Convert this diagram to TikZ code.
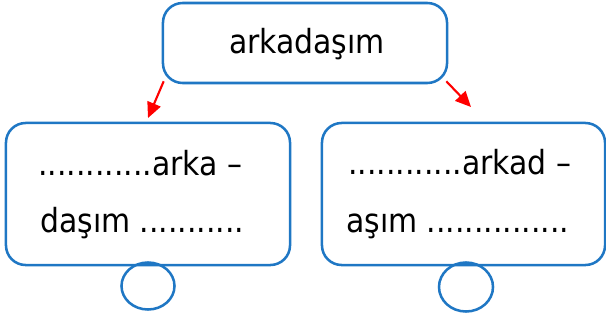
\documentclass[tikz,border=0pt]{standalone}
\usepackage{fontspec}
\setmainfont{DejaVu Sans Condensed}
\usetikzlibrary{shapes.geometric,arrows.meta}
\definecolor{boxblue}{HTML}{1F77C4}
\definecolor{arrowred}{HTML}{FF0000}
\tikzset{
    wordbox/.style={shape=rectangle,rounded corners=14pt,draw=boxblue,line width=1.8pt,minimum width=7.1cm,minimum height=3.55cm},
    bubble/.style={shape=ellipse,draw=boxblue,line width=1.8pt,inner sep=0pt},
    line/.style={anchor=base west,inner sep=0pt,font=\fontsize{23.6}{28}\selectfont},
    link/.style={draw=arrowred,line width=1.5pt,-{Triangle[length=11pt,width=10pt]}}
}
\begin{document}
\begin{tikzpicture}[x=0.025cm,y=-0.025cm]
    \useasboundingbox (0,0) rectangle (606,322);
    % insert nodes
    \node[wordbox,minimum height=2cm] (top) at (305,43) {};
    \node[wordbox] (left) at (148,194) {};
    \node[wordbox,minimum width=7.075cm] (right) at (463.5,194) {};
    \node[line,anchor=base] (word) at (307,53) {arkadaşım};
    \node[line] (l1) at (38,175) {............arka –};
    \node[line] (l2) at (40,232) {daşım ...........};
    \node[line] (r1) at (348,174) {............arkad –};
    \node[line] (r2) at (346,232) {aşım ...............};
    \node[bubble,minimum width=1.325cm,minimum height=1.175cm] (lc) at (148,286) {};
    \node[bubble,minimum width=1.35cm,minimum height=1.225cm] (rc) at (466,287) {};
    \coordinate (la) at (148,118);
    \coordinate (ra) at (471,107);

    % insert links
    \draw[link] ([shift={(2,-3)}]top.south west) -- (la);
    \draw[link] ([shift={(-2,-3)}]top.south east) -- (ra);
\end{tikzpicture}
\end{document}
